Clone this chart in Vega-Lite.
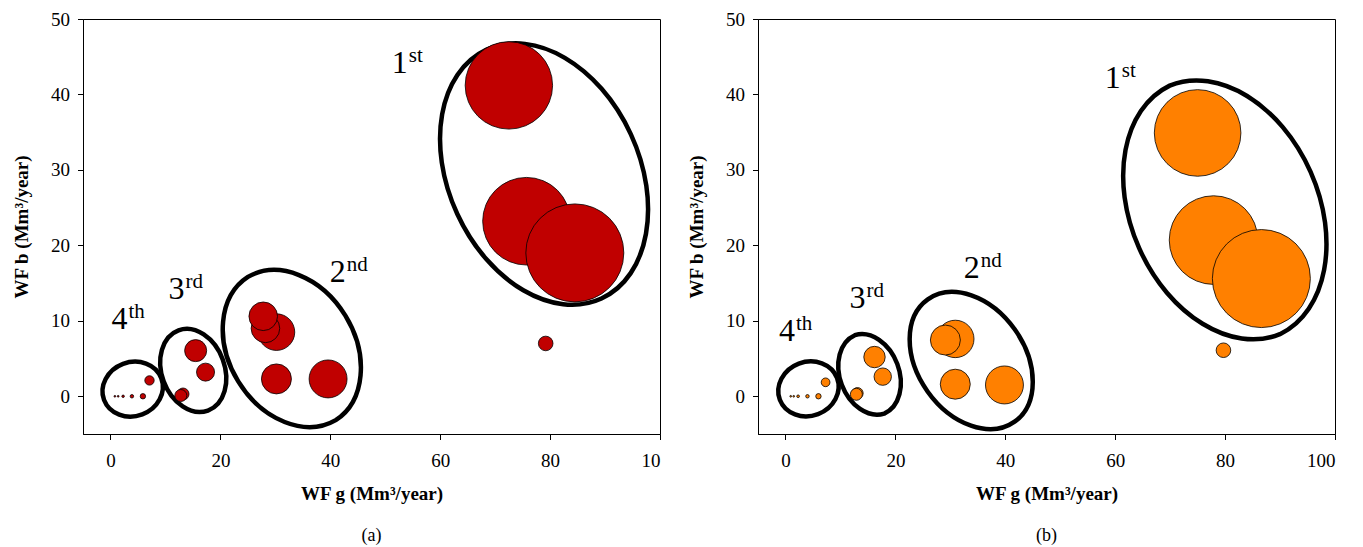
{
  "$schema": "https://vega.github.io/schema/vega-lite/v6.json",
  "background": "white",
  "padding": {"left": 12, "top": 9, "right": 5, "bottom": 5},
  "spacing": 26,
  "config": {
    "font": "Liberation Serif",
    "view": {"stroke": "black", "strokeWidth": 1},
    "axis": {
      "grid": false,
      "labelFont": "Liberation Serif",
      "labelFontSize": 19,
      "labelColor": "black",
      "titleFont": "Liberation Serif",
      "titleFontSize": 19,
      "titleFontWeight": "bold",
      "titleColor": "black",
      "domainColor": "black",
      "tickColor": "black",
      "tickSize": 5.5
    },
    "title": {"font": "Liberation Serif", "fontSize": 18, "fontWeight": "normal", "color": "black"}
  },
  "datasets": {
    "bubA": [
      {"wfg": 72.5, "wfb": 41.2, "wf": 76.4},
      {"wfg": 75.7, "wfb": 23.2, "wf": 76.7},
      {"wfg": 84.5, "wfb": 19.0, "wf": 96.0},
      {"wfg": 79.2, "wfb": 7.0, "wf": 2.13},
      {"wfg": 30.2, "wfb": 8.5, "wf": 13.4},
      {"wfg": 28.2, "wfb": 9.0, "wf": 8.18},
      {"wfg": 27.8, "wfb": 10.6, "wf": 8.18},
      {"wfg": 30.2, "wfb": 2.3, "wf": 9.0},
      {"wfg": 39.6, "wfb": 2.3, "wf": 14.4},
      {"wfg": 15.5, "wfb": 6.05, "wf": 4.84},
      {"wfg": 17.3, "wfb": 3.2, "wf": 3.24},
      {"wfg": 13.2, "wfb": 0.3, "wf": 1.44},
      {"wfg": 12.8, "wfb": 0.1, "wf": 1.44},
      {"wfg": 7.1, "wfb": 2.1, "wf": 0.88},
      {"wfg": 5.9, "wfb": 0.0, "wf": 0.29},
      {"wfg": 3.9, "wfb": 0.0, "wf": 0.12},
      {"wfg": 2.3, "wfb": 0.0, "wf": 0.06},
      {"wfg": 1.4, "wfb": 0.0, "wf": 0.03},
      {"wfg": 0.8, "wfb": 0.0, "wf": 0.03}
    ],
    "bubB": [
      {"wfg": 75.0, "wfb": 34.9, "wf": 75.0},
      {"wfg": 77.9, "wfb": 20.7, "wf": 78.5},
      {"wfg": 86.6, "wfb": 15.6, "wf": 96.0},
      {"wfg": 79.7, "wfb": 6.1, "wf": 2.13},
      {"wfg": 30.9, "wfb": 7.6, "wf": 14.0},
      {"wfg": 29.1, "wfb": 7.45, "wf": 9.0},
      {"wfg": 30.9, "wfb": 1.6, "wf": 9.0},
      {"wfg": 39.85, "wfb": 1.5, "wf": 14.4},
      {"wfg": 16.2, "wfb": 5.2, "wf": 4.58},
      {"wfg": 17.7, "wfb": 2.6, "wf": 3.03},
      {"wfg": 13.1, "wfb": 0.4, "wf": 1.3},
      {"wfg": 12.9, "wfb": 0.26, "wf": 1.44},
      {"wfg": 7.3, "wfb": 1.85, "wf": 0.76},
      {"wfg": 6.0, "wfb": 0.0, "wf": 0.29},
      {"wfg": 4.0, "wfb": 0.0, "wf": 0.12},
      {"wfg": 2.3, "wfb": 0.0, "wf": 0.07},
      {"wfg": 1.5, "wfb": 0.0, "wf": 0.03},
      {"wfg": 0.95, "wfb": 0.0, "wf": 0.03}
    ],
    "ringA": [
      {"ring": "1st", "wfg": 78.9, "wfb": 29.45},
      {"ring": "2nd", "wfg": 33.0, "wfb": 6.33},
      {"ring": "3rd", "wfg": 15.06, "wfb": 3.42},
      {"ring": "4th", "wfg": 4.04, "wfb": 0.95}
    ],
    "ringB": [
      {"ring": "1st", "wfg": 79.95, "wfb": 24.7},
      {"ring": "2nd", "wfg": 33.8, "wfb": 4.74},
      {"ring": "3rd", "wfg": 15.3, "wfb": 2.9},
      {"ring": "4th", "wfg": 4.18, "wfb": 0.98}
    ],
    "labA": [
      {"num": "1", "sup": "st", "wfg": 51.2, "wfb": 42.8},
      {"num": "2", "sup": "nd", "wfg": 39.9, "wfb": 15.15},
      {"num": "3", "sup": "rd", "wfg": 10.56, "wfb": 12.9},
      {"num": "4", "sup": "th", "wfg": 0.18, "wfb": 8.87}
    ],
    "labB": [
      {"num": "1", "sup": "st", "wfg": 58.1, "wfb": 40.8},
      {"num": "2", "sup": "nd", "wfg": 32.45, "wfb": 15.7},
      {"num": "3", "sup": "rd", "wfg": 11.67, "wfb": 11.65},
      {"num": "4", "sup": "th", "wfg": -1.18, "wfb": 7.36}
    ]
  },
  "hconcat": [
    {
      "width": 577,
      "height": 415,
      "title": {"text": "(a)", "orient": "bottom", "offset": 23},
      "encoding": {
        "x": {"field": "wfg", "type": "quantitative", "scale": {"domain": [-5, 100], "nice": false, "zero": false},
              "axis": {"title": "WF g (Mm³/year)", "values": [0, 20, 40, 60, 80, 100], "labelPadding": 12, "titlePadding": 14,
                       "labelExpr": "datum.value == 100 ? '10' : datum.label"}},
        "y": {"field": "wfb", "type": "quantitative", "scale": {"domain": [-5, 50], "nice": false, "zero": false},
              "axis": {"title": "WF b (Mm³/year)", "values": [0, 10, 20, 30, 40, 50], "labelPadding": 8, "titlePadding": 19}}
      },
      "layer": [
        {
          "data": {"name": "ringA"},
          "mark": {"type": "point", "filled": false, "size": 4, "color": "black", "strokeWidth": 4.5, "opacity": 1},
          "encoding": {
            "shape": {"field": "ring", "type": "nominal", "legend": null,
                      "scale": {"domain": ["1st", "2nd", "3rd", "4th"],
                                "range": [
                                  "M -57.4,-124.4 A 137,95.5 65.2 0,1 57.4,124.4 A 137,95.5 65.2 0,1 -57.4,-124.4 Z",
                                  "M -43.9,-71.6 A 84,64 58.5 0,1 43.9,71.6 A 84,64 58.5 0,1 -43.9,-71.6 Z",
                                  "M -14.7,-40.1 A 42.7,31.5 69.8 0,1 14.7,40.1 A 42.7,31.5 69.8 0,1 -14.7,-40.1 Z",
                                  "M -28.6,10.9 A 30.6,27 -20.8 0,1 28.6,-10.9 A 30.6,27 -20.8 0,1 -28.6,10.9 Z"
                                ]}}
          }
        },
        {
          "data": {"name": "bubA"},
          "mark": {"type": "point", "filled": true, "shape": "circle", "fill": "#C00000", "stroke": "black", "strokeWidth": 0.8, "opacity": 1},
          "encoding": {
            "size": {"field": "wf", "type": "quantitative", "legend": null, "scale": {"type": "linear", "domain": [0, 100], "range": [0, 10000], "zero": true}}
          }
        },
        {
          "data": {"name": "labA"},
          "mark": {"type": "text", "align": "left", "baseline": "alphabetic", "fontSize": 32, "font": "Liberation Serif", "color": "black"},
          "encoding": {"text": {"field": "num"}}
        },
        {
          "data": {"name": "labA"},
          "mark": {"type": "text", "align": "left", "baseline": "alphabetic", "fontSize": 21, "font": "Liberation Serif", "color": "black", "dx": 17, "dy": -11},
          "encoding": {"text": {"field": "sup"}}
        }
      ]
    },
    {
      "width": 577,
      "height": 415,
      "title": {"text": "(b)", "orient": "bottom", "offset": 23},
      "encoding": {
        "x": {"field": "wfg", "type": "quantitative", "scale": {"domain": [-5, 100], "nice": false, "zero": false},
              "axis": {"title": "WF g (Mm³/year)", "values": [0, 20, 40, 60, 80, 100], "labelPadding": 12, "titlePadding": 14}},
        "y": {"field": "wfb", "type": "quantitative", "scale": {"domain": [-5, 50], "nice": false, "zero": false},
              "axis": {"title": "WF b (Mm³/year)", "values": [0, 10, 20, 30, 40, 50], "labelPadding": 8, "titlePadding": 19}}
      },
      "layer": [
        {
          "data": {"name": "ringB"},
          "mark": {"type": "point", "filled": false, "size": 4, "color": "black", "strokeWidth": 4.5, "opacity": 1},
          "encoding": {
            "shape": {"field": "ring", "type": "nominal", "legend": null,
                      "scale": {"domain": ["1st", "2nd", "3rd", "4th"],
                                "range": [
                                  "M -55.1,-124.3 A 136,96 66.1 0,1 55.1,124.3 A 136,96 66.1 0,1 -55.1,-124.3 Z",
                                  "M -43.4,-61.2 A 75,53.5 54.65 0,1 43.4,61.2 A 75,53.5 54.65 0,1 -43.4,-61.2 Z",
                                  "M -14.7,-39.2 A 41.9,30.9 69.4 0,1 14.7,39.2 A 41.9,30.9 69.4 0,1 -14.7,-39.2 Z",
                                  "M -28.6,10.9 A 30.6,27 -20.8 0,1 28.6,-10.9 A 30.6,27 -20.8 0,1 -28.6,10.9 Z"
                                ]}}
          }
        },
        {
          "data": {"name": "bubB"},
          "mark": {"type": "point", "filled": true, "shape": "circle", "fill": "#FF8000", "stroke": "black", "strokeWidth": 0.8, "opacity": 1},
          "encoding": {
            "size": {"field": "wf", "type": "quantitative", "legend": null, "scale": {"type": "linear", "domain": [0, 100], "range": [0, 10000], "zero": true}}
          }
        },
        {
          "data": {"name": "labB"},
          "mark": {"type": "text", "align": "left", "baseline": "alphabetic", "fontSize": 32, "font": "Liberation Serif", "color": "black"},
          "encoding": {"text": {"field": "num"}}
        },
        {
          "data": {"name": "labB"},
          "mark": {"type": "text", "align": "left", "baseline": "alphabetic", "fontSize": 21, "font": "Liberation Serif", "color": "black", "dx": 17, "dy": -11},
          "encoding": {"text": {"field": "sup"}}
        }
      ]
    }
  ],
  "resolve": {"scale": {"shape": "independent", "x": "independent", "y": "independent"}}
}
